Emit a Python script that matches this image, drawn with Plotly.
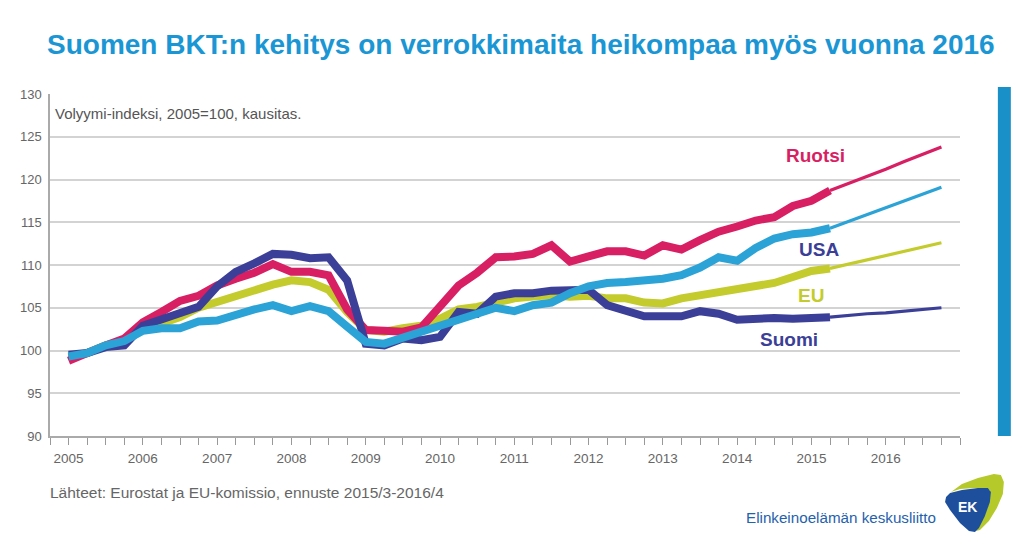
import plotly.graph_objects as go

# ---------------- data (quarterly, 2005Q1 .. 2016Q4) ----------------
years_start = 2005
quarters_actual = 42   # 2005Q1 .. 2015Q2 (outturn, thick line)

ruotsi = [98.8, 99.8, 100.6, 101.4, 103.3, 104.5, 105.8, 106.4,
          107.6, 108.4, 109.1, 110.1, 109.2, 109.2, 108.8, 104.8,
          102.4, 102.3, 102.2, 102.7, 105.3, 107.6, 109.1, 110.9,
          111.0, 111.3, 112.3, 110.4, 111.0, 111.6, 111.6, 111.1,
          112.3, 111.8, 112.9, 113.9, 114.5, 115.2, 115.6, 116.9,
          117.5, 118.7,
          119.5, 120.4, 121.2, 122.1, 122.9, 123.8]

usa = [99.3, 99.7, 100.6, 101.1, 102.3, 102.6, 102.6, 103.4,
       103.5, 104.2, 104.8, 105.3, 104.6, 105.2, 104.6, 102.8,
       101.0, 100.8, 101.5, 102.2, 102.7, 103.6, 104.2, 105.0,
       104.6, 105.3, 105.6, 106.7, 107.5, 107.9, 108.0, 108.1,
       108.4, 108.8, 109.7, 110.9, 110.5, 112.0, 113.1, 113.6,
       113.8, 114.3,
       115.1, 115.9, 116.7, 117.5, 118.3, 119.1]

eu = [99.2, 99.7, 100.6, 101.2, 102.4, 103.2, 103.9, 105.0,
      105.7, 106.4, 107.1, 107.7, 108.2, 108.0, 107.1, 104.5,
      102.4, 102.2, 102.6, 102.9, 103.7, 104.8, 105.1, 105.7,
      106.1, 106.3, 106.5, 106.3, 106.4, 106.1, 106.1, 105.6,
      105.5, 106.1, 106.5, 106.8, 107.2, 107.5, 107.9, 108.6,
      109.3, 109.6,
      110.1, 110.6, 111.1, 111.6, 112.1, 112.6]

suomi = [99.5, 99.7, 100.4, 100.6, 102.9, 103.6, 104.2, 105.1,
         107.5, 109.2, 110.2, 111.3, 111.2, 110.8, 110.9, 108.2,
         100.8, 100.6, 101.4, 101.2, 101.6, 104.5, 104.3, 106.3,
         106.7, 106.7, 107.0, 107.1, 107.1, 105.3, 104.7, 104.0,
         104.0, 104.0, 104.6, 104.3, 103.6, 103.8, 103.8, 103.7,
         103.7, 103.9,
         104.1, 104.3, 104.4, 104.6, 104.8, 105.0]

series_names = ["EU", "Ruotsi", "Suomi", "USA"]
series_values = {"EU": eu, "Ruotsi": ruotsi, "Suomi": suomi, "USA": usa}
series_colors = {"EU": "#c3cc2c", "Ruotsi": "#d81f63", "Suomi": "#3b3f97", "USA": "#2ba3d6"}

year_ticks = list(range(2005, 2017))
y_ticks = [90, 95, 100, 105, 110, 115, 120, 125, 130]

title_text = "Suomen BKT:n kehitys on verrokkimaita heikompaa myös vuonna 2016"
subtitle_text = "Volyymi-indeksi, 2005=100, kausitas."
source_text = "Lähteet: Eurostat ja EU-komissio, ennuste 2015/3-2016/4"
org_text = "Elinkeinoelämän keskusliitto"

# labels: (name, x in years, y value)
label_pos = {"Ruotsi": (2015.05, 122.8), "USA": (2015.1, 111.8),
             "EU": (2015.0, 106.4), "Suomi": (2014.7, 101.3)}

# ---------------- figure ----------------
# The page body has an 8px margin, so the figure is drawn 8px smaller and
# all reference pixel positions are shifted by -8.
OFF = 8
W, H = 1024 - OFF, 548 - OFF
PL, PR, PT, PB = 47, 960, 94, 436   # plot area in page pixels
L, T = PL - OFF, PT - OFF
R = W - (PR - OFF)
B = H - (PB - OFF)

def px(x):
    return (x - PL) / (PR - PL)

def py(y):
    return (PB - y) / (PB - PT)

x_all = [years_start + i / 4 for i in range(len(eu))]

fig = go.Figure()
for name in series_names:
    vals = series_values[name]
    col = series_colors[name]
    fig.add_trace(go.Scatter(
        x=x_all[quarters_actual - 1:], y=vals[quarters_actual - 1:],
        mode="lines", line=dict(color=col, width=3.2), showlegend=False,
        hoverinfo="skip"))
    fig.add_trace(go.Scatter(
        x=x_all[:quarters_actual], y=vals[:quarters_actual],
        mode="lines", line=dict(color=col, width=8), showlegend=False,
        name=name))

font_main = "Liberation Sans, Arial, sans-serif"

for name, (lx, ly) in label_pos.items():
    col = series_colors[name]
    if name == "USA":
        col = series_colors["Suomi"]
    fig.add_annotation(x=lx, y=ly, text=f"<b>{name}</b>", showarrow=False,
                       font=dict(family=font_main, size=19, color=col),
                       xanchor="center", yanchor="middle")

fig.add_annotation(xref="paper", yref="paper", x=px(50), y=py(113),
                   text=subtitle_text, showarrow=False, xanchor="left",
                   yanchor="middle",
                   font=dict(family=font_main, size=15, color="#555555"))

fig.add_annotation(xref="paper", yref="paper", x=px(520), y=py(45),
                   text=f"<b>{title_text}</b>", showarrow=False,
                   xanchor="center", yanchor="middle",
                   font=dict(family=font_main, size=28, color="#1b96d4"))

fig.add_annotation(xref="paper", yref="paper", x=px(45), y=py(492),
                   text=source_text, showarrow=False, xanchor="left",
                   yanchor="middle",
                   font=dict(family=font_main, size=15.5, color="#666666"))

fig.add_annotation(xref="paper", yref="paper", x=px(743), y=py(517),
                   text=org_text, showarrow=False, xanchor="left",
                   yanchor="middle",
                   font=dict(family=font_main, size=15.2, color="#1f62ad"))

# right blue bar
fig.add_shape(type="rect", xref="paper", yref="paper",
              x0=px(998), x1=px(1011), y0=py(87), y1=py(436),
              fillcolor="#1a90c8", line=dict(width=0), layer="above")

# EK logo
def path(points):
    s = ""
    for i, (x, y) in enumerate(points):
        s += ("M" if i == 0 else "L") + f"{px(x):.5f},{py(y):.5f} "
    return s + "Z"

green = [(951, 492), (962, 484), (978, 478), (994, 474), (1001, 475),
         (1004, 482), (1003, 494), (997, 508), (989, 521), (980, 530),
         (976, 531), (985, 515), (990, 500), (990, 490), (975, 488),
         (960, 489)]
blue = [(946, 497), (950, 493), (962, 490), (978, 488), (988, 488),
        (991, 492), (990, 502), (985, 516), (979, 528), (975, 532),
        (969, 531), (960, 523), (950, 510), (945, 502)]
fig.add_shape(type="path", xref="paper", yref="paper", path=path(green),
              fillcolor="#b5c92a", line=dict(width=0), layer="above")
fig.add_shape(type="path", xref="paper", yref="paper", path=path(blue),
              fillcolor="#1d4f9c", line=dict(width=0), layer="above")
fig.add_annotation(xref="paper", yref="paper", x=px(968), y=py(507),
                   text="<b>EK</b>", showarrow=False, xanchor="center",
                   yanchor="middle",
                   font=dict(family=font_main, size=14, color="white"))

fig.update_layout(
    width=W, height=H,
    margin=dict(l=L, r=R, t=T, b=B),
    paper_bgcolor="white", plot_bgcolor="white",
    xaxis=dict(range=[2004.75, 2017.0], tickvals=year_ticks,
               ticktext=[str(y) for y in year_ticks],
               ticks="outside", ticklen=7, tickcolor="#999999",
               showline=True, linecolor="#aaaaaa", linewidth=1.5,
               showgrid=False, zeroline=False,
               minor=dict(tick0=2005, dtick=0.25, ticks="outside",
                          ticklen=7, tickcolor="#999999", showgrid=False),
               tickfont=dict(family=font_main, size=13.5, color="#666666"),
               ticklabelstandoff=2),
    yaxis=dict(range=[90, 130], tickvals=y_ticks, ticks="",
               showline=True, linecolor="#aaaaaa", linewidth=1.5,
               showgrid=True, gridcolor="#d3d3d3", gridwidth=1.5,
               zeroline=False,
               tickfont=dict(family=font_main, size=13, color="#666666"),
               ticklabelstandoff=4),
)

fig.write_html("out.html")
